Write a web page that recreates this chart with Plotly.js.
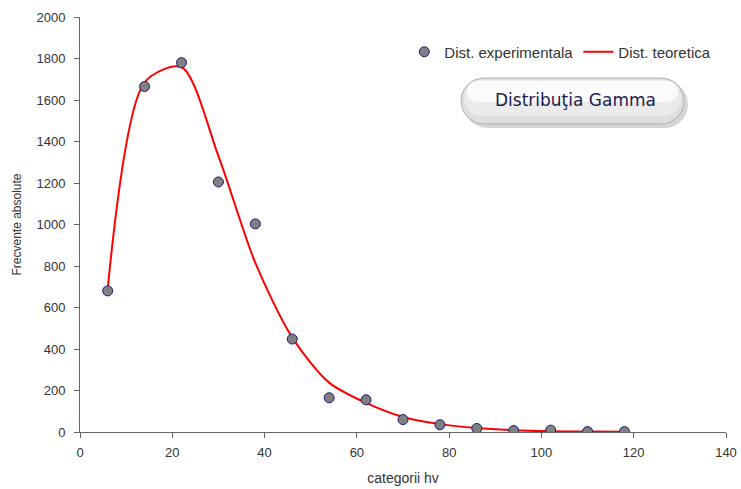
<!DOCTYPE html>
<html>
<head>
<meta charset="utf-8">
<script src="https://cdn.plot.ly/plotly-3.0.1.min.js"></script>
<style>html,body{margin:0;padding:0;background:#fff}#chart{width:741px;height:489px}</style>
</head>
<body>
<div id="chart"></div>
<script>
const categories = [6, 14, 22, 30, 38, 46, 54, 62, 70, 78, 86, 94, 102, 110, 118];
const experimental = [680, 1665, 1780, 1205, 1003, 448, 165, 155, 60, 35, 17, 7, 9, 2, 2];
const theoretical = [690, 1685, 1758, 1330, 815, 455, 238, 140, 72, 38, 19, 9, 4, 2, 1];
const seriesNames = ["Dist. experimentala", "Dist. teoretica"];
const titleText = "Distribuţia Gamma";

const W = 741, H = 489, mL = 80, mR = 15, mT = 17, mB = 57;
const pw = W - mL - mR, ph = H - mT - mB;
function px(x) { return (x - mL) / pw; }
function py(y) { return (H - mB - y) / ph; }
function pill(x0, y0, x1, y1) {
  const r = (y1 - y0) / 2, k = 0.5523 * r;
  const P = (x, y) => px(x).toFixed(5) + "," + py(y).toFixed(5);
  return "M" + P(x0 + r, y0) + " L" + P(x1 - r, y0) +
    " C" + P(x1 - r + k, y0) + " " + P(x1, y0 + r - k) + " " + P(x1, y0 + r) +
    " C" + P(x1, y0 + r + k) + " " + P(x1 - r + k, y1) + " " + P(x1 - r, y1) +
    " L" + P(x0 + r, y1) +
    " C" + P(x0 + r - k, y1) + " " + P(x0, y0 + r + k) + " " + P(x0, y0 + r) +
    " C" + P(x0, y0 + r - k) + " " + P(x0 + r - k, y0) + " " + P(x0 + r, y0) + " Z";
}

const traces = [
  {
    x: categories, y: theoretical, name: seriesNames[1], type: "scatter", mode: "lines",
    line: { color: "#ff0000", width: 2, shape: "spline", smoothing: 0.8 }
  },
  {
    x: categories, y: experimental, name: seriesNames[0], type: "scatter", mode: "markers",
    marker: { color: "#808080", size: 10, line: { color: "#1a1a80", width: 1 } }
  }
];

const fam = "Liberation Sans, Arial, sans-serif";
const tickFont = { family: fam, size: 13, color: "#333333" };
const layout = {
  width: W, height: H,
  margin: { l: mL, r: mR, t: mT, b: mB },
  paper_bgcolor: "#ffffff", plot_bgcolor: "#ffffff",
  showlegend: true,
  legend: {
    orientation: "h", x: 0.985, y: py(52), xanchor: "right", yanchor: "middle",
    font: { family: fam, size: 15, color: "#333333" },
    traceorder: "reversed", bgcolor: "rgba(0,0,0,0)", itemwidth: 30
  },
  xaxis: {
    range: [0, 140], dtick: 20, tick0: 0, showgrid: false, zeroline: false,
    showline: true, linecolor: "#666666", linewidth: 1,
    ticks: "outside", ticklen: 5, tickcolor: "#666666",
    tickfont: tickFont, ticklabelstandoff: 3,
    title: { text: "categorii hv", font: { family: fam, size: 14, color: "#333333" }, standoff: 14 }
  },
  yaxis: {
    range: [0, 2000], dtick: 200, tick0: 0, showgrid: false, zeroline: false,
    showline: true, linecolor: "#666666", linewidth: 1,
    ticks: "outside", ticklen: 5, tickcolor: "#666666",
    tickfont: tickFont, ticklabelstandoff: 6,
    title: { text: "Frecvente absolute", font: { family: fam, size: 12, color: "#333333" }, standoff: 12 }
  },
  shapes: [
    { type: "path", xref: "paper", yref: "paper", path: pill(464, 81, 688, 128), fillcolor: "#c4c4c4", line: { width: 0 }, opacity: 0.7 },
    { type: "path", xref: "paper", yref: "paper", path: pill(461, 78, 684, 124), fillcolor: "#dedede", line: { color: "#b0b0b0", width: 1 } },
    { type: "path", xref: "paper", yref: "paper", path: pill(464, 80, 681, 116), fillcolor: "#ebebeb", line: { width: 0 } },
    { type: "path", xref: "paper", yref: "paper", path: pill(467, 81, 678, 102), fillcolor: "#fbfbfb", line: { width: 0 } }
  ],
  annotations: [
    { xref: "paper", yref: "paper", x: px(575), y: py(100), xanchor: "center", yanchor: "middle",
      text: titleText, showarrow: false,
      font: { family: "DejaVu Sans, Verdana, sans-serif", size: 17, color: "#1c1c50" } }
  ]
};

Plotly.newPlot("chart", traces, layout, { displayModeBar: false, staticPlot: true });
</script>
</body>
</html>
